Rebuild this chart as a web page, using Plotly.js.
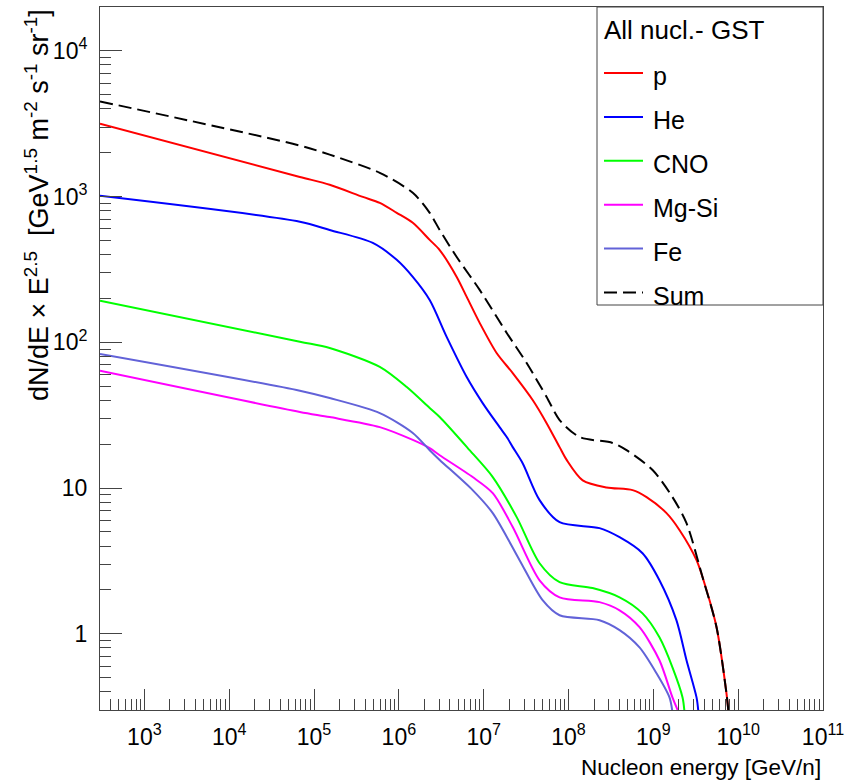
<!DOCTYPE html>
<html>
<head>
<meta charset="utf-8">
<script src="https://cdn.plot.ly/plotly-3.0.1.min.js"></script>
<style>
  html, body { margin: 0; padding: 0; background: #fff; }
  #chart { width: 848px; height: 784px; }
</style>
</head>
<body>
<div id="chart"></div>
<script>
// Flux spectra (dN/dE x E^2.5) per nucleon energy for the GST all-nucleon model
const E_p   = [300, 6.81e4, 1.53e5, 3.76e5, 5.96e5, 9.44e5, 1.46e6, 2.31e6, 3.03e6, 4.81e6, 6.31e6, 8.97e6, 1.42e7, 2.20e7, 3.78e7, 5.52e7, 7.85e7, 9.51e7, 1.47e8, 2.81e8, 5.69e8, 8.32e8, 1.43e9, 2.04e9, 3.23e9, 4.24e9, 5.56e9, 7.28e9, 7.69e9];
const F_p   = [3160, 1365, 1205, 995, 906, 774, 661, 505, 430, 281, 205, 136, 84.5, 61.5, 40.2, 27.9, 19.1, 15.6, 11.3, 10.1, 9.68, 8.67, 6.73, 5.14, 3.20, 1.99, 1.11, 0.390, 0.290];

const E_he  = [300, 6.81e4, 1.53e5, 4.93e5, 9.44e5, 1.46e6, 2.31e6, 3.66e6, 6.31e6, 9.73e6, 1.54e7, 1.87e7, 2.20e7, 2.88e7, 4.56e7, 7.85e7, 2.32e8, 4.00e8, 7.46e8, 1.18e9, 1.87e9, 2.46e9, 3.23e9, 3.40e9];
const F_he  = [1012, 673, 590, 481, 368, 281, 195, 109, 57.8, 38.3, 26.2, 22.4, 19.1, 14.8, 8.26, 5.83, 5.31, 4.60, 3.57, 2.33, 1.24, 0.658, 0.366, 0.290];

const E_cno = [300, 6.81e4, 1.53e5, 5.96e5, 1.24e6, 2.31e6, 3.03e6, 6.49e6, 1.28e7, 2.45e7, 4.56e7, 7.85e7, 1.92e8, 4.00e8, 7.46e8, 1.18e9, 1.68e9, 2.21e9, 2.33e9];
const F_cno = [193, 101, 91.4, 67.8, 49.3, 35.4, 30.7, 18.8, 11.9, 6.32, 3.05, 2.26, 2.06, 1.78, 1.38, 0.946, 0.589, 0.366, 0.290];

const E_mg  = [300, 6.81e4, 1.53e5, 5.96e5, 1.46e6, 2.31e6, 3.03e6, 7.41e6, 1.28e7, 2.20e7, 4.56e7, 7.85e7, 2.32e8, 4.00e8, 6.87e8, 1.18e9, 1.68e9, 1.98e9];
const F_mg  = [63.8, 33.3, 30.7, 26.2, 21.4, 18.8, 16.8, 11.9, 9.23, 5.40, 2.33, 1.78, 1.65, 1.45, 1.11, 0.658, 0.366, 0.290];

const E_fe  = [300, 6.81e4, 1.53e5, 5.96e5, 1.46e6, 2.31e6, 3.03e6, 7.41e6, 1.28e7, 2.65e7, 4.95e7, 7.85e7, 2.32e8, 4.00e8, 6.87e8, 1.09e9, 1.55e9, 1.68e9];
const F_fe  = [83.2, 46.6, 41.5, 32.7, 23.9, 18.2, 15.6, 9.68, 6.73, 3.20, 1.70, 1.34, 1.24, 1.06, 0.807, 0.536, 0.366, 0.290];

const E_sum = [300, 6.81e4, 1.53e5, 5.96e5, 1.46e6, 2.31e6, 3.03e6, 4.81e6, 8.97e6, 1.87e7, 3.21e7, 5.52e7, 7.85e7, 1.35e8, 3.30e8, 4.83e8, 9.80e8, 1.68e9, 2.46e9, 3.80e9, 5.56e9, 7.28e9, 7.69e9];
const F_sum = [4500, 2240, 1940, 1455, 1062, 774, 590, 385, 229, 116, 72.1, 42.2, 29.3, 22.4, 20.4, 18.2, 13.3, 8.67, 5.74, 2.45, 1.11, 0.390, 0.290];

const seriesNames  = ['p', 'He', 'CNO', 'Mg-Si', 'Fe', 'Sum'];
const seriesColors = ['#ff0000', '#0000ff', '#00ff00', '#ff00ff', '#6262d8', '#000000'];
const seriesDash   = ['solid', 'solid', 'solid', 'solid', 'solid', '13px,6px'];
const seriesX = [E_p, E_he, E_cno, E_mg, E_fe, E_sum];
const seriesY = [F_p, F_he, F_cno, F_mg, F_fe, F_sum];

const xTickVals = [1e3, 1e4, 1e5, 1e6, 1e7, 1e8, 1e9, 1e10, 1e11];
const xTickText = ['10<sup>3</sup>', '10<sup>4</sup>', '10<sup>5</sup>', '10<sup>6</sup>', '10<sup>7</sup>',
                   '10<sup>8</sup>', '10<sup>9</sup>', '10<sup>10</sup>', '10<sup>11</sup>'];
const yTickVals = [1, 10, 100, 1000, 10000];
const yTickText = ['1', '10', '10<sup>2</sup>', '10<sup>3</sup>', '10<sup>4</sup>'];

const legendTitle = 'All nucl.- GST';
const xTitle = 'Nucleon energy [GeV/n]';
const yTitle = 'dN/dE\u00a0\u00d7\u00a0E<sup>2.5</sup>\u00a0 [GeV<sup>1.5</sup> m<sup>-2</sup> s<sup>-1</sup> sr<sup>-1</sup>]';

// minor ticks at 2..9 of every decade
function minorTicks(lo, hi) {
  const v = [];
  for (let e = lo; e <= hi; e++) {
    for (let m = 2; m <= 9; m++) v.push(m * Math.pow(10, e));
  }
  return v;
}

const FONT = 'Liberation Sans, Arial, Helvetica, sans-serif';
const frameColor = '#444';

const traces = seriesNames.map((name, i) => ({
  type: 'scatter',
  mode: 'lines',
  name: name,
  x: seriesX[i],
  y: seriesY[i],
  line: { color: seriesColors[i], width: 2, dash: seriesDash[i], shape: 'spline', smoothing: 0.8 },
  showlegend: false,
  hoverinfo: 'x+y+name'
}));

// legend box drawn in paper coordinates
const W = 848, H = 784;
const margin = { l: 100, r: 25, t: 7, b: 74 };
const pw = W - margin.l - margin.r, ph = H - margin.t - margin.b;
const px = x => (x - margin.l) / pw;
const py = y => (H - margin.b - y) / ph;

const shapes = [{
  type: 'rect', xref: 'paper', yref: 'paper',
  x0: px(597), x1: 1, y0: py(305), y1: 1,
  fillcolor: '#ffffff', line: { color: frameColor, width: 1 }
}];
const annotations = [{
  xref: 'paper', yref: 'paper', x: px(602), y: py(30), xanchor: 'left', yanchor: 'middle',
  text: legendTitle, showarrow: false, font: { family: FONT, size: 26, color: '#000' }
}];
const rowY0 = 73, rowStep = 43.9;
seriesNames.forEach((name, i) => {
  const yy = rowY0 + i * rowStep;
  shapes.push({
    type: 'line', xref: 'paper', yref: 'paper',
    x0: px(604), x1: px(643), y0: py(yy), y1: py(yy),
    line: { color: seriesColors[i], width: 2, dash: i === 5 ? '13px,6px' : 'solid' }
  });
  annotations.push({
    xref: 'paper', yref: 'paper', x: px(651), y: py(yy + 3), xanchor: 'left', yanchor: 'middle',
    text: name, showarrow: false, font: { family: FONT, size: 25, color: '#000' }
  });
});

// axis titles, right/top aligned
annotations.push({
  xref: 'paper', yref: 'paper', x: 1, y: py(767), xanchor: 'right', yanchor: 'middle',
  text: xTitle, showarrow: false, font: { family: FONT, size: 22.5, color: '#000' }
});
annotations.push({
  xref: 'paper', yref: 'paper', x: px(37), y: 1, xanchor: 'center', yanchor: 'top',
  text: yTitle, textangle: -90, showarrow: false, font: { family: FONT, size: 27, color: '#000' }
});

const layout = {
  width: W, height: H,
  margin: margin,
  paper_bgcolor: '#ffffff',
  plot_bgcolor: '#ffffff',
  showlegend: false,
  font: { family: FONT, size: 23, color: '#000' },
  xaxis: {
    type: 'log',
    range: [Math.log10(300), 11],
    tickmode: 'array', tickvals: xTickVals, ticktext: xTickText,
    ticks: 'inside', ticklen: 21, tickwidth: 1, tickcolor: frameColor,
    minor: { tickmode: 'array', tickvals: minorTicks(2, 10), ticks: 'inside', ticklen: 11, tickwidth: 1, tickcolor: frameColor, showgrid: false },
    showgrid: false, zeroline: false,
    showline: true, mirror: true, linecolor: frameColor, linewidth: 1,
    tickfont: { family: FONT, size: 23, color: '#000' },
    ticklabelstandoff: 6
  },
  yaxis: {
    type: 'log',
    range: [Math.log10(0.3), Math.log10(2.0e4)],
    tickmode: 'array', tickvals: yTickVals, ticktext: yTickText,
    ticks: 'inside', ticklen: 22, tickwidth: 1, tickcolor: frameColor,
    minor: { tickmode: 'array', tickvals: minorTicks(-1, 4), ticks: 'inside', ticklen: 11, tickwidth: 1, tickcolor: frameColor, showgrid: false },
    showgrid: false, zeroline: false,
    showline: true, mirror: true, linecolor: frameColor, linewidth: 1,
    tickfont: { family: FONT, size: 23, color: '#000' },
    ticklabelstandoff: 7
  },
  shapes: shapes,
  annotations: annotations
};

Plotly.newPlot('chart', traces, layout, { displayModeBar: false });
</script>
</body>
</html>
